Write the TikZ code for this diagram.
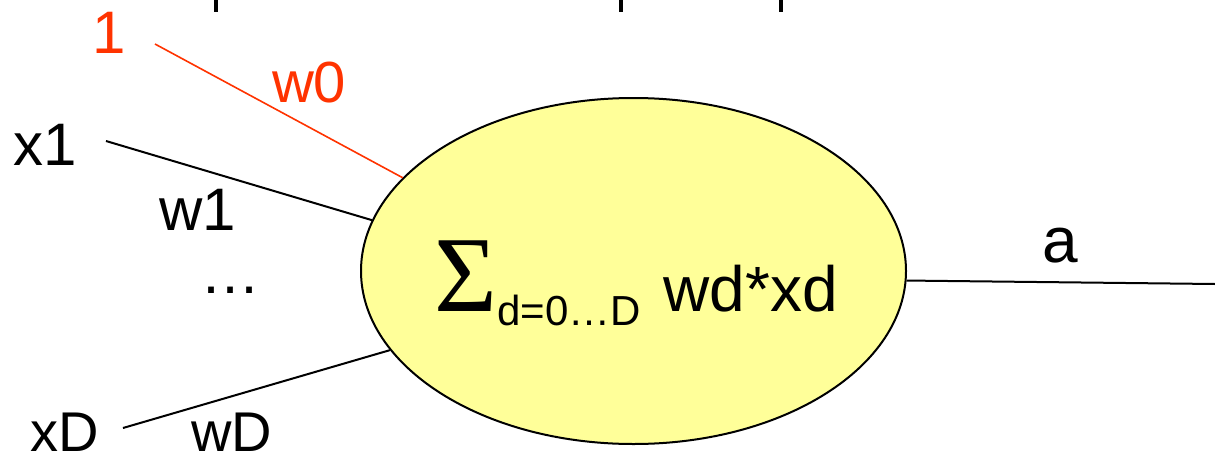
\documentclass[tikz,border=0pt]{standalone}
\usepackage{fontspec}
\setmainfont{Liberation Sans}
\newfontfamily\sigfont{Liberation Serif}
\usetikzlibrary{shapes.geometric}
\definecolor{sumfill}{RGB}{255,255,153}
\definecolor{biasred}{RGB}{255,51,0}
\tikzset{
  lbl/.style={anchor=base west, inner sep=0pt, outer sep=0pt, font=\fontsize{30}{36}\selectfont},
  conn/.style={line width=1pt, black},
  biasconn/.style={line width=0.8pt, biasred},
  sumnode/.style={ellipse, draw=black, line width=1pt, fill=sumfill, minimum width=272.5pt, minimum height=173pt, inner sep=0pt},
  frag/.style={line width=2pt, black, line cap=butt}
}
\begin{document}
\begin{tikzpicture}[x=0.5pt, y=-0.5pt]
\useasboundingbox (0,0) rectangle (1215,455);
% partially visible text fragments at the top edge
\draw[frag] (216,0) -- (216,12);
\draw[frag] (621,0) -- (621,12);
\draw[frag] (781,0) -- (781,12);
% summation unit
\node[sumnode] (sum) at (633.5,271) {};
\node[anchor=base west, inner sep=0pt, font=\sigfont\fontsize{54}{60}\selectfont] (sigma) at (434,311) {Σ};
\node[anchor=base west, inner sep=0pt, font=\fontsize{21}{24}\selectfont] (sub) at (497,325) {d=0…D};
\node[anchor=base west, inner sep=0pt, font=\fontsize{32}{38}\selectfont] (expr) at (663,311) {wd*xd};
% labels
\node[lbl, text=biasred] (one) at (92,53) {1};
\node[lbl, text=biasred, font=\fontsize{29}{34}\selectfont] (w0) at (272,102) {w0};
\node[lbl] (x1) at (13,165) {x1};
\node[lbl] (w1) at (159,230) {w1};
\node[lbl] (dots) at (200,293) {…};
\node[lbl, font=\fontsize{28}{34}\selectfont] (xD) at (31,451) {xD};
\node[lbl, font=\fontsize{28}{34}\selectfont] (wD) at (191,451) {wD};
\node[lbl, font=\fontsize{32}{38}\selectfont] (a) at (1042,262) {a};
% connector ends
\coordinate (s0) at (155,44);
\coordinate (s1) at (106,141);
\coordinate (sD) at (123,428);
\coordinate (out) at (1215,284);
\draw[biasconn] (s0) -- (sum.158);
\draw[conn] (s1) -- (sum.169);
\draw[conn] (sD) -- (sum.198);
\draw[conn] (sum.-2.7) -- (out);
\end{tikzpicture}
\end{document}
